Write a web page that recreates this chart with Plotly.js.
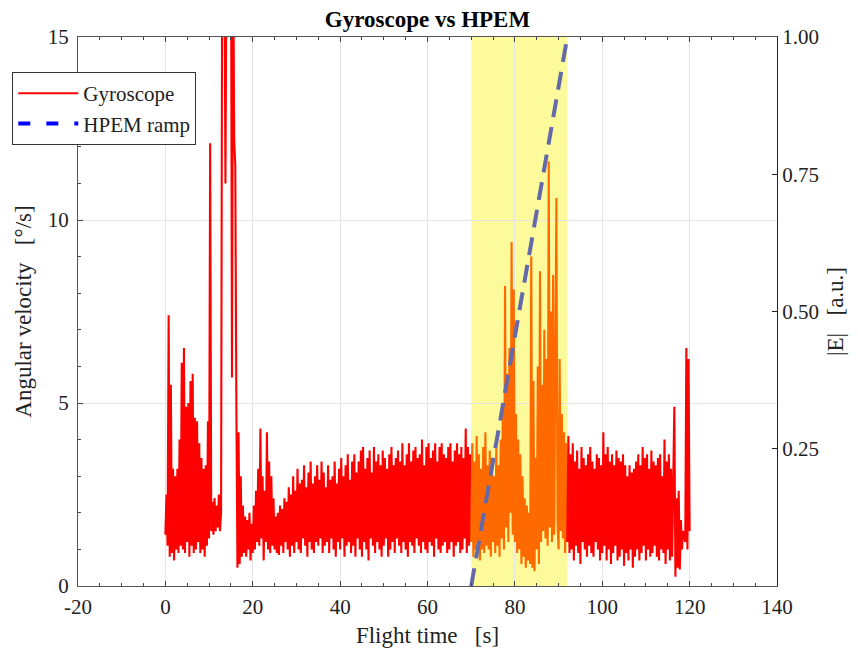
<!DOCTYPE html>
<html>
<head>
<meta charset="utf-8">
<script src="https://cdn.plot.ly/plotly-3.0.1.min.js"></script>
<style>html,body{margin:0;padding:0;background:#fff;}#chart{width:858px;height:651px;}</style>
</head>
<body>
<div id="chart"></div>
<script>
// Gyroscope angular velocity [deg/s], sampled every 0.25 s
const gyroStart = 0, gyroStep = 0.25;
const gyroBefore = [ // t = 0 ... 70 s (one row = 1 s)
  1.4, 2.5, 1.1, 7.4,   0.8, 5.5, 0.9, 3.2,   0.7, 3.0, 1.0, 3.2,   0.9, 4.0, 1.1, 6.1,
  1.0, 6.5, 0.9, 4.9,   1.2, 5.0, 0.8, 5.6,   1.1, 5.8, 0.9, 4.6,   1.0, 4.5, 1.2, 3.9,
  0.9, 3.5, 1.0, 3.2,   0.8, 3.3, 1.1, 4.5,   1.3, 12.1, 1.5, 2.3,  1.4, 2.4, 1.5, 2.2,
  1.6, 2.5, 1.5, 2.0,   17, 15, 18, 11,       18, 16, 19, 17,       19, 5.7, 18, 12.2,
  11.5, 4.9, 0.5, 4.2,  0.6, 3.0, 0.8, 2.2,   0.9, 1.9, 0.8, 1.8,   1.0, 2.0, 0.7, 1.7,
  0.9, 2.2, 1.0, 2.6,   1.2, 3.2, 1.1, 4.3,   1.3, 3.0, 0.7, 2.6,   1.2, 4.2, 1.0, 3.4,
  0.9, 3.0, 1.1, 2.4,   1.0, 1.9, 0.9, 2.0,   0.85, 2.2, 1.1, 2.1,  0.9, 2.4, 1.2, 2.3,
  1.0, 2.7, 0.8, 2.5,   1.1, 3.0, 0.9, 2.6,   1.2, 3.2, 1.0, 2.8,   0.9, 2.9, 1.3, 3.3,
  1.1, 2.7, 0.8, 3.1,   1.2, 3.4, 1.0, 2.8,   0.9, 3.0, 1.2, 3.3,   1.1, 2.9, 1.3, 3.4,
  0.9, 3.1, 1.1, 2.7,   1.2, 3.3, 0.9, 2.9,   1.3, 3.0, 1.0, 3.4,   0.8, 2.8, 1.2, 3.2,
  1.0, 3.5, 1.3, 3.0,   0.8, 3.3, 1.1, 3.6,   1.2, 2.9, 0.9, 3.4,   1.1, 3.6, 0.8, 3.1,
  1.3, 3.4, 1.0, 3.7,   0.8, 3.8, 1.2, 3.2,   1.0, 3.5, 0.7, 3.7,   1.3, 3.1, 1.1, 3.8,
  0.9, 3.4, 1.2, 3.6,   1.0, 3.3, 0.8, 3.7,   1.1, 3.5, 1.3, 3.2,   0.8, 3.6, 1.0, 3.8,
  1.2, 3.3, 0.9, 3.5,   1.3, 3.7, 1.1, 3.4,   0.9, 3.9, 1.2, 3.3,   1.0, 3.6, 0.8, 3.9,
  1.2, 3.4, 1.1, 3.7,   0.9, 3.8, 1.3, 3.5,   1.1, 3.6, 0.9, 4.0,   1.2, 3.3, 1.0, 3.8,
  0.9, 3.9, 1.2, 3.5,   1.1, 3.7, 0.8, 3.9,   1.3, 3.4, 1.0, 3.8,   0.9, 3.9, 1.1, 3.6,
  1.2, 3.5, 0.9, 3.8,   1.0, 3.9, 1.2, 3.4,   0.8, 3.7, 1.1, 3.9,   1.2, 3.6, 0.9, 3.8,
  1.0, 3.5, 1.3, 4.3,   0.9, 3.8, 1.1, 3.6,
  1.2
];
const hpemStart = 70;
const gyroDuring = [ // t = 70 ... 92 s (HPEM on)
  1.2, 3.9, 0.8, 3.4,   1.0, 4.1, 1.2, 3.6,   0.7, 3.2, 1.0, 3.8,   0.9, 4.2, 1.1, 3.3,
  1.0, 3.7, 0.8, 3.5,   1.2, 3.0, 0.9, 3.8,   1.1, 3.3, 0.8, 4.0,   1.3, 5.0, 1.0, 8.2,
  1.6, 5.8, 1.2, 6.5,   2.0, 9.4, 1.4, 8.1,   1.2, 4.7, 0.9, 4.0,   1.0, 3.6, 0.6, 3.0,
  0.8, 2.4, 0.5, 2.2,   0.7, 2.0, 0.6, 9.0,   0.5, 5.6, 0.4, 3.5,   1.0, 6.0, 0.6, 8.6,
  1.2, 5.5, 1.5, 7.0,   1.3, 6.2, 1.1, 11.6,  1.6, 7.5, 1.2, 8.5,   1.4, 6.4, 10.6, 1.8,
  1.0, 6.2, 1.5, 4.7,   1.3, 4.2, 0.9, 3.9,
  1.2
];
const hpemEnd = 92;
const gyroAfter = [ // t = 92 ... 120 s
  1.2, 4.1, 0.9, 3.6,   1.0, 3.9, 0.7, 3.4,   1.1, 3.7, 0.9, 3.2,   0.6, 3.8, 1.2, 3.5,
  1.0, 3.3, 0.8, 3.6,   1.1, 3.8, 0.9, 3.4,   0.8, 3.2, 1.2, 3.6,   1.0, 3.5, 0.7, 3.3,
  0.9, 4.2, 1.1, 3.6,   0.7, 3.8, 1.0, 3.4,   0.6, 3.6, 0.9, 3.3,   1.1, 3.7, 0.7, 3.5,
  0.8, 3.4, 1.0, 3.6,   0.55, 3.3, 0.9, 3.0,  0.7, 3.3, 1.0, 3.1,   0.5, 3.2, 0.8, 3.4,
  1.0, 3.6, 0.7, 3.3,   0.9, 3.8, 1.1, 3.5,   0.7, 3.6, 1.0, 3.2,   0.8, 3.7, 0.9, 3.4,
  1.1, 3.3, 0.8, 3.5,   0.7, 3.6, 1.0, 3.0,   0.9, 4.0, 0.6, 3.4,   1.0, 3.6, 0.7, 3.2,
  0.8, 3.0, 4.9, 0.25,  2.4, 0.5, 2.6, 0.45,  1.8, 1.0, 1.5, 1.4,   1.2, 6.5, 1.0, 6.2,
  1.5
];
// HPEM field ramp |E| [a.u.]
const rampTime = [70, 92];
const rampLevel = [0, 1];
// axis tick labels
const xTickVals = [-20, 0, 20, 40, 60, 80, 100, 120, 140];
const xTickText = ['-20', '0', '20', '40', '60', '80', '100', '120', '140'];
const eTickVals = [0.25, 0.5, 0.75, 1];
const eTickText = ['0.25', '0.50', '0.75', '1.00'];

const serif = 'Liberation Serif, Times New Roman, serif';
const sp = '\u00a0\u00a0\u00a0';
const lw = 2.1;

const traces = [
  {x0: gyroStart, dx: gyroStep, y: gyroBefore, type: 'scatter', mode: 'lines',
   line: {color: '#ff0000', width: lw}, name: 'Gyroscope', showlegend: true, hoverinfo: 'skip'},
  {x0: hpemStart, dx: gyroStep, y: gyroDuring, type: 'scatter', mode: 'lines',
   line: {color: '#ff6a00', width: lw}, showlegend: false, hoverinfo: 'skip'},
  {x0: hpemEnd, dx: gyroStep, y: gyroAfter, type: 'scatter', mode: 'lines',
   line: {color: '#ff0000', width: lw}, showlegend: false, hoverinfo: 'skip'},
  {x: rampTime, y: rampLevel, yaxis: 'y2', type: 'scatter', mode: 'lines',
   line: {color: '#6469aa', width: 4, dash: '18px,10px'}, showlegend: false, hoverinfo: 'skip'},
  {x: [null], y: [null], yaxis: 'y2', type: 'scatter', mode: 'lines',
   line: {color: '#0000ff', width: 4, dash: '12px,16px'}, name: 'HPEM ramp', showlegend: true}
];

const layout = {
  width: 858, height: 651,
  margin: {l: 78, r: 81, t: 37, b: 65},
  paper_bgcolor: '#ffffff', plot_bgcolor: '#ffffff',
  font: {family: serif, size: 20, color: '#222'},
  showlegend: true,
  title: {text: '<b>Gyroscope vs HPEM</b>', x: 0.5, xref: 'paper', y: 0.971, yref: 'container', yanchor: 'middle',
          font: {family: serif, size: 23, color: '#000'}},
  shapes: [{type: 'rect', xref: 'x', yref: 'paper', x0: hpemStart, x1: hpemEnd, y0: 0, y1: 1,
            fillcolor: '#fdfa9c', line: {width: 0}, layer: 'below'}],
  xaxis: {range: [-20, 140], tickvals: xTickVals, ticktext: xTickText, ticks: 'inside', ticklen: 5, tickcolor: '#444',
          showline: true, linecolor: '#555', linewidth: 1, mirror: 'ticks', ticklabelstandoff: 2,
          showgrid: true, gridcolor: '#e4e4e4', zeroline: false,
          minor: {dtick: 5, tick0: 0, ticks: 'inside', ticklen: 3, tickcolor: '#444', showgrid: false},
          tickfont: {family: serif, size: 21, color: '#222'},
          title: {text: 'Flight time' + sp + '[s]', standoff: 8, font: {family: serif, size: 23, color: '#222'}}},
  yaxis: {range: [0, 15], tickvals: [0, 5, 10, 15], ticks: 'inside', ticklen: 5, tickcolor: '#444',
          showline: true, linecolor: '#555', linewidth: 1, mirror: false, ticklabelstandoff: 4,
          showgrid: true, gridcolor: '#e4e4e4', zeroline: false,
          minor: {dtick: 1, ticks: 'inside', ticklen: 3, tickcolor: '#444', showgrid: false},
          tickfont: {family: serif, size: 21, color: '#222'},
          title: {text: 'Angular velocity' + sp + '[°/s]', standoff: 9, font: {family: serif, size: 23, color: '#222'}}},
  yaxis2: {range: [0, 1], overlaying: 'y', side: 'right', tickvals: eTickVals,
           ticktext: eTickText, ticks: 'inside', ticklen: 5, tickcolor: '#222',
           showline: true, linecolor: '#222', linewidth: 1, showgrid: false, zeroline: false,
           tickfont: {family: serif, size: 21, color: '#222'},
           title: {text: '|E|' + sp + '[a.u.]', standoff: 8, font: {family: serif, size: 23, color: '#222'}}},
  legend: {x: -0.094, y: 0.936, xanchor: 'left', yanchor: 'top', bgcolor: '#ffffff',
           bordercolor: '#333', borderwidth: 1, font: {family: serif, size: 21, color: '#222'},
           tracegroupgap: 0, itemwidth: 60}
};

Plotly.newPlot('chart', traces, layout, {staticPlot: true, displayModeBar: false});
</script>
</body>
</html>
